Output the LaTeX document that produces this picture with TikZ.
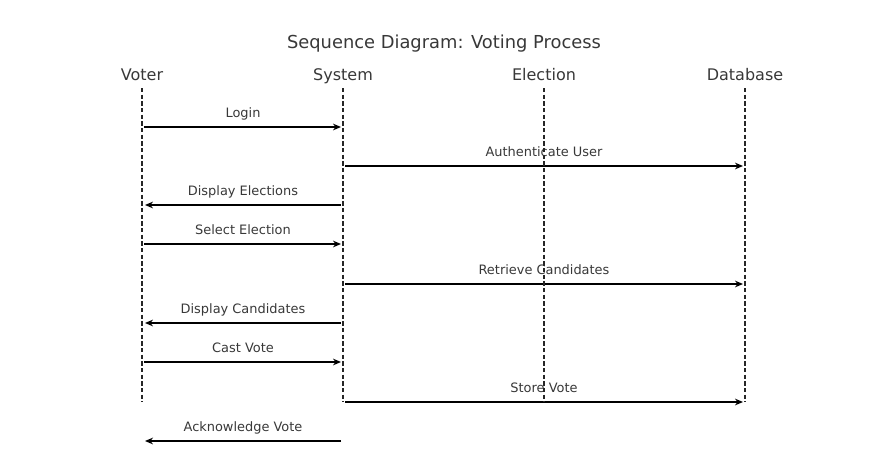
\documentclass[tikz,border=0pt]{standalone}
\usepackage{fontspec}
\setmainfont{DejaVu Sans}
\usetikzlibrary{arrows.meta, positioning}

\begin{document}
\begin{tikzpicture}[x=0.75pt, y=-0.75pt,
    actor/.style={text=black!78, font=\fontsize{12}{14}\selectfont, inner sep=0pt, text height=0.73em, text depth=0.2em, yshift=-2pt},
    msg/.style={text=black!78, font=\fontsize{9.7}{11}\selectfont, inner sep=0pt, text height=0.73em, text depth=0.2em, yshift=-1.6pt},
    lifeline/.style={black!85, line width=0.8pt, dash pattern=on 3.3pt off 1.7pt},
    call/.style={black, line width=1.1pt, -{Stealth[length=6pt, width=5pt]}}]
    \useasboundingbox (0,0) rectangle (885,450);
    %title and the four actors
    \node (title) [actor, font=\fontsize{13.4}{15}\selectfont] at (444,42) {Sequence Diagram: Voting Process};
    \node (voter) [actor] at (142,74) {Voter};
    \node (system) [actor] at (343,74) {System};
    \node (election) [actor] at (544,74) {Election};
    \node (database) [actor] at (745,74) {Database};
    %messages
    \node (login) [msg] at (243,112) {Login};
    \draw [call] (144,127) to (341,127);
    \node (auth) [msg] at (544,151) {Authenticate User};
    \draw [call] (345,166) to (743,166);
    \node (showel) [msg] at (243,190) {Display Elections};
    \draw [call] (341,205) to (145,205);
    \node (selel) [msg] at (243,229) {Select Election};
    \draw [call] (144,244) to (341,244);
    \node (getcand) [msg] at (544,269) {Retrieve Candidates};
    \draw [call] (345,284) to (743,284);
    \node (showcand) [msg] at (243,308) {Display Candidates};
    \draw [call] (341,323) to (145,323);
    \node (cast) [msg] at (243,347) {Cast Vote};
    \draw [call] (144,362) to (341,362);
    \node (store) [msg] at (544,387) {Store Vote};
    \draw [call] (345,402) to (743,402);
    \node (ack) [msg] at (243,426) {Acknowledge Vote};
    \draw [call] (341,441) to (145,441);
    %lifelines on top
    \draw [lifeline] (voter |- 0,88) to (voter |- 0,402);
    \draw [lifeline] (system |- 0,88) to (system |- 0,402);
    \draw [lifeline] (election |- 0,88) to (election |- 0,402);
    \draw [lifeline] (database |- 0,88) to (database |- 0,402);
\end{tikzpicture}
\end{document}
